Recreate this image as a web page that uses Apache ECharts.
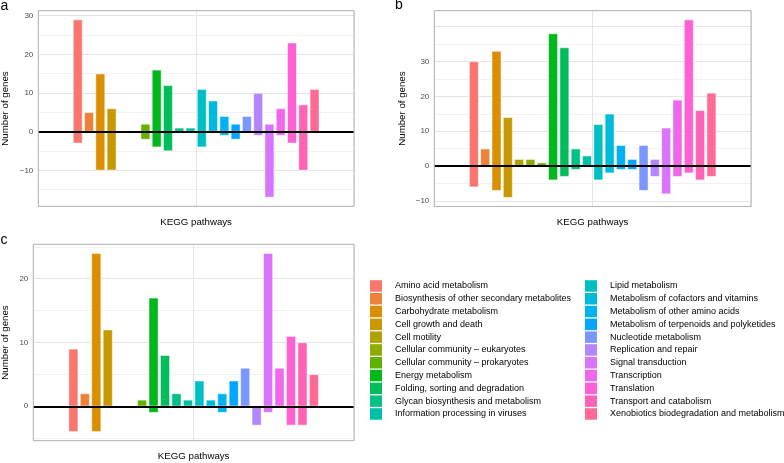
<!DOCTYPE html>
<html><head><meta charset="utf-8">
<script src="https://cdn.jsdelivr.net/npm/echarts@6/dist/echarts.min.js"></script>
<style>html,body{margin:0;padding:0;background:#fff}#chart{width:784px;height:463px}</style>
</head><body><div id="chart"></div>
<script>
// ---------- DATA ----------
const categories = [
  'Amino acid metabolism',
  'Biosynthesis of other secondary metabolites',
  'Carbohydrate metabolism',
  'Cell growth and death',
  'Cell motility',
  'Cellular community \u2013 eukaryotes',
  'Cellular community \u2013 prokaryotes',
  'Energy metabolism',
  'Folding, sorting and degradation',
  'Glycan biosynthesis and metabolism',
  'Information processing in viruses',
  'Lipid metabolism',
  'Metabolism of cofactors and vitamins',
  'Metabolism of other amino acids',
  'Metabolism of terpenoids and polyketides',
  'Nucleotide metabolism',
  'Replication and repair',
  'Signal transduction',
  'Transcription',
  'Translation',
  'Transport and catabolism',
  'Xenobiotics biodegradation and metabolism'
];
const upA   = [29, 5, 15, 6, null, null, 2, 16, 12, 1, 1, 11, 8, 4, 2, 4, 10, 2, 6, 23, 7, 11];
const downA = [-3, null, -10, -10, null, null, -2, -4, -5, null, null, -4, null, -1, -2, null, -1, -17, -1, -3, -10, null];
const upB   = [30, 5, 33, 14, 2, 2, 1, 38, 34, 5, 3, 12, 15, 6, 2, 6, 2, 11, 19, 42, 16, 21];
const downB = [-6, null, -7, -9, null, null, null, -4, -3, -1, null, -4, -2, -1, -1, -7, -3, -8, -3, -2, -4, -3];
const upC   = [9, 2, 24, 12, null, null, 1, 17, 8, 2, 1, 4, 1, 2, 4, 6, null, 24, 6, 11, 10, 5];
const downC = [-4, null, -4, null, null, null, null, -1, null, null, null, null, null, -1, null, null, -3, -1, null, -3, -3, null];
const tickLabelsA = [-10, 0, 10, 20, 30];
const tickLabelsB = [-10, 0, 10, 20, 30];
const tickLabelsC = [0, 10, 20];
const panelLetters = ['a', 'b', 'c'];
const xTitle = 'KEGG pathways';
const yTitle = 'Number of genes';

// ---------- LAYOUT / STYLE ----------
const layout = [
  {left: 38.3, top: 10.7, width: 315.7, height: 195.6, letterX: 0.5, letterY: 6, yTitleX: 5.5, majorSplit: 5, minorSplit: 10},
  {left: 434.3, top: 10.7, width: 316.7, height: 195.8, letterX: 395, letterY: 5.5, yTitleX: 402.5, majorSplit: 5, minorSplit: 10},
  {left: 33.3, top: 244.3, width: 320.7, height: 196.4, letterX: 0.5, letterY: 240, yTitleX: 5.5, majorSplit: 3, minorSplit: 6}
];
const FONT = "'Liberation Sans', Arial, Helvetica, sans-serif";
const PAD = 3; // empty slots each side (ggplot dodge inside single x)

function hcl(h, c, l) {
  const Xn = 95.047, Yn = 100.0, Zn = 108.883;
  const hr = h * Math.PI / 180;
  const U = c * Math.cos(hr), V = c * Math.sin(hr);
  const Y = Yn * (l > 7.999592 ? Math.pow((l + 16) / 116, 3) : l / 903.3);
  const t = Xn + 15 * Yn + 3 * Zn;
  const un = 4 * Xn / t, vn = 9 * Yn / t;
  const u = U / (13 * l) + un, v = V / (13 * l) + vn;
  const X = 9 * Y * u / (4 * v);
  const Z = -X / 3 - 5 * Y + 3 * Y / v;
  const x = X / 100, y = Y / 100, z = Z / 100;
  const lin = [
    3.240479 * x - 1.537150 * y - 0.498535 * z,
    -0.969256 * x + 1.875992 * y + 0.041556 * z,
    0.055648 * x - 0.204043 * y + 1.057311 * z
  ];
  return '#' + lin.map(c0 => {
    let g = c0 <= 0.0031308 ? 12.92 * c0 : 1.055 * Math.pow(c0, 1 / 2.4) - 0.055;
    g = Math.max(0, Math.min(1, g));
    return Math.round(g * 255).toString(16).padStart(2, '0');
  }).join('');
}
const n = categories.length;
const colors = categories.map((_, i) => hcl(15 + i * 360 / n, 100, 65));

const axisCats = [];
for (let i = 0; i < PAD; i++) axisCats.push('padL' + i);
categories.forEach(c => axisCats.push(c));
for (let i = 0; i < PAD; i++) axisCats.push('padR' + i);

const panelData = [
  {up: upA, down: downA, ticks: tickLabelsA},
  {up: upB, down: downB, ticks: tickLabelsB},
  {up: upC, down: downC, ticks: tickLabelsC}
];

function expandRange(up, down) {
  const vals = up.concat(down).filter(v => v != null);
  const lo = Math.min(...vals), hi = Math.max(...vals);
  const pad = (hi - lo) * 0.05;
  return [lo - pad, hi + pad];
}
function fmtTick(ticks) {
  return v => {
    const hit = ticks.find(t => Math.abs(t - v) < 1e-6);
    if (hit === undefined) return '';
    return hit < 0 ? '\u2212' + Math.abs(hit) : String(hit);
  };
}

const grids = [], xAxes = [], yAxes = [], series = [], graphics = [];
panelData.forEach((pd, p) => {
  const L = layout[p];
  const [mn, mx] = expandRange(pd.up, pd.down);
  grids.push({left: L.left, top: L.top, width: L.width, height: L.height, show: false, outerBoundsMode: 'none', containLabel: false});
  // bar category axis (index 2p)
  xAxes.push({
    type: 'category', gridIndex: p, data: axisCats,
    axisLine: {show: false}, axisTick: {show: false}, axisLabel: {show: false},
    splitLine: {show: false}
  });
  // hidden value axis providing the single centre gridline (index 2p+1)
  xAxes.push({
    type: 'value', gridIndex: p, min: 0, max: 2, interval: 1, position: 'bottom',
    axisLine: {show: false}, axisTick: {show: false}, axisLabel: {show: false},
    splitLine: {show: true, lineStyle: {color: '#e4e4e4', width: 1}}
  });
  // minor grid axis
  yAxes.push({
    type: 'value', gridIndex: p, min: mn, max: mx, minInterval: 5, maxInterval: 5, splitNumber: L.minorSplit,
    position: 'left', axisLine: {show: false}, axisTick: {show: false}, axisLabel: {show: false},
    splitLine: {show: true, lineStyle: {color: '#f1f1f1', width: 1}}
  });
  // major axis
  yAxes.push({
    type: 'value', gridIndex: p, min: mn, max: mx, minInterval: 10, maxInterval: 10, splitNumber: L.majorSplit,
    position: 'left', axisLine: {show: false}, axisTick: {show: false},
    axisLabel: {show: true, formatter: fmtTick(pd.ticks), color: '#4d4d4d', fontSize: 8, fontFamily: FONT, margin: 5},
    splitLine: {show: true, lineStyle: {color: '#e4e4e4', width: 1}}
  });
  let first = true;
  categories.forEach((cat, i) => {
    [pd.up[i], pd.down[i]].forEach(val => {
      if (val == null) return;
      const s = {
        type: 'bar', name: cat, xAxisIndex: 2 * p, yAxisIndex: 2 * p + 1,
        data: [[cat, val]], barWidth: '84%', barGap: '-100%',
        itemStyle: {color: colors[i], borderColor: '#ffffff', borderWidth: 0.5},
        emphasis: {disabled: true}, animation: false
      };
      if (first) {
        s.markLine = {
          silent: true, symbol: ['none', 'none'], label: {show: false}, animation: false,
          lineStyle: {color: '#000', width: 2.2, type: 'solid'},
          data: [{yAxis: 0}]
        };
        first = false;
      }
      series.push(s);
    });
  });
  // border
  graphics.push({type: 'rect', z: 100, silent: true,
    shape: {x: L.left, y: L.top, width: L.width, height: L.height},
    style: {fill: 'none', stroke: '#b3b3b3', lineWidth: 1}});
  // panel letter
  graphics.push({type: 'text', z: 100, silent: true, x: L.letterX, y: L.letterY,
    style: {text: panelLetters[p], fontSize: 14, fontFamily: FONT, fill: '#000', align: 'left', verticalAlign: 'middle'}});
  // x title
  graphics.push({type: 'text', z: 100, silent: true, x: L.left + L.width / 2, y: L.top + L.height + 16,
    style: {text: xTitle, fontSize: 9.7, fontFamily: FONT, fill: '#000', align: 'center', verticalAlign: 'middle'}});
  // y title
  graphics.push({type: 'text', z: 100, silent: true, x: L.yTitleX, y: L.top + L.height / 2, rotation: Math.PI / 2,
    style: {text: yTitle, fontSize: 9.7, fontFamily: FONT, fill: '#000', align: 'center', verticalAlign: 'middle'}});
});

const legendCommon = {
  orient: 'vertical', top: 280.2, padding: 0, itemWidth: 12, itemHeight: 11.5, itemGap: 1.3,
  icon: 'rect', selectedMode: false,
  itemStyle: {borderWidth: 0},
  textStyle: {fontSize: 9, color: '#000', fontFamily: FONT, padding: [0, 0, 0, 8]}
};

const chart = echarts.init(document.getElementById('chart'), null, {renderer: 'canvas'});
chart.setOption({
  animation: false,
  backgroundColor: '#ffffff',
  textStyle: {fontFamily: FONT},
  grid: grids, xAxis: xAxes, yAxis: yAxes, series: series,
  legend: [
    Object.assign({}, legendCommon, {left: 370, data: categories.slice(0, 11)}),
    Object.assign({}, legendCommon, {left: 585, data: categories.slice(11)})
  ],
  graphic: graphics
});
</script></body></html>
